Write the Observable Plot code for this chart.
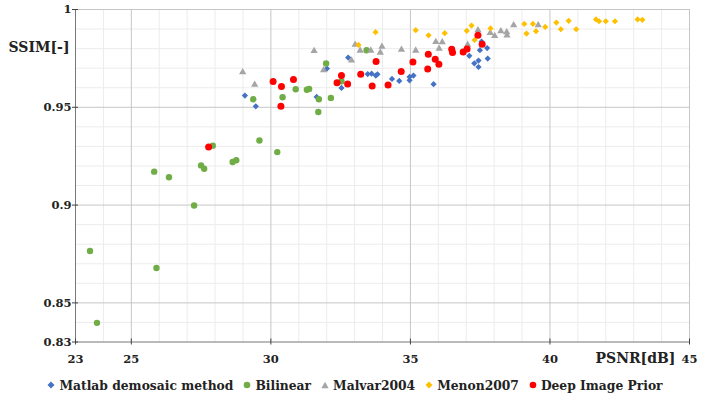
<!DOCTYPE html>
<html><head><meta charset="utf-8">
<script src="https://cdn.jsdelivr.net/npm/d3@7"></script>
<script src="https://cdn.jsdelivr.net/npm/@observablehq/plot@0.6"></script>
<style>
html,body{margin:0;padding:0;background:#fff;}
#wrap{width:710px;position:relative;font-family:"DejaVu Serif",serif;font-weight:bold;}
#legend{display:flex;justify-content:center;align-items:center;height:26px;font-size:12.3px;color:#222;margin-top:0px;}
#legend .it{display:flex;align-items:center;margin:0 5px;}
#legend svg{margin-right:4px;}
</style></head>
<body><div id="wrap"></div>
<script>
const seriesNames = ["Matlab demosaic method", "Bilinear", "Malvar2004", "Menon2007", "Deep Image Prior"];
const seriesColors = ["#4472C4", "#70AD47", "#A5A5A5", "#FFC000", "#FF0000"];
const seriesSymbols = ["diamond2", "circle", "triangle", "diamond2", "circle"];
const seriesR = [2.8, 3.2, 2.7, 2.8, 3.5];

const matlabX = [29.07, 29.46, 31.64, 32.01, 32.53, 32.77, 33.47, 33.61, 33.76, 33.82, 34.34, 34.60, 34.97, 34.97, 35.11, 35.83, 37.11, 37.29, 37.44, 37.44, 37.49, 37.55, 37.75, 37.77];
const matlabY = [0.956, 0.9505, 0.9553, 0.9698, 0.9599, 0.9754, 0.967, 0.9672, 0.9662, 0.9669, 0.9645, 0.9635, 0.9638, 0.9655, 0.9662, 0.9618, 0.9763, 0.9725, 0.9739, 0.9706, 0.9792, 0.9836, 0.9803, 0.9749];

const bilinearX = [23.52, 23.77, 25.82, 25.90, 26.35, 27.25, 27.50, 27.61, 27.92, 28.63, 28.76, 29.37, 29.59, 30.23, 30.42, 30.89, 31.29, 31.37, 31.70, 31.72, 31.98, 32.15, 32.53, 33.43];
const bilinearY = [0.8765, 0.8398, 0.9171, 0.8678, 0.9142, 0.8998, 0.9203, 0.9186, 0.9304, 0.922, 0.9229, 0.9541, 0.933, 0.9271, 0.9551, 0.9592, 0.959, 0.9594, 0.9476, 0.9541, 0.9724, 0.9548, 0.9633, 0.9792];

const malvarX = [28.99, 29.42, 31.55, 31.89, 32.89, 33.02, 33.20, 33.58, 33.92, 33.98, 34.68, 35.19, 35.91, 36.03, 36.14, 37.05, 37.42, 37.86, 38.02, 38.24, 38.45, 38.46, 38.70, 39.58];
const malvarY = [0.968, 0.9616, 0.9788, 0.969, 0.974, 0.982, 0.979, 0.979, 0.978, 0.981, 0.9795, 0.979, 0.9834, 0.980, 0.9833, 0.982, 0.9894, 0.988, 0.9865, 0.9889, 0.9884, 0.9868, 0.992, 0.992];

const menonX = [33.14, 33.75, 35.19, 35.65, 36.23, 37.02, 37.19, 37.30, 37.87, 39.08, 39.16, 39.39, 39.50, 39.83, 40.23, 40.39, 40.67, 40.94, 41.65, 41.76, 42.00, 42.33, 43.14, 43.31];
const menonY = [0.9819, 0.9884, 0.9894, 0.9868, 0.9879, 0.9891, 0.9918, 0.9844, 0.9903, 0.9926, 0.9877, 0.9926, 0.9889, 0.9911, 0.9933, 0.9899, 0.9942, 0.9899, 0.9949, 0.994, 0.994, 0.994, 0.9949, 0.9947];

const dipX = [27.77, 30.08, 30.36, 30.38, 30.81, 32.37, 32.53, 32.75, 33.22, 33.63, 33.77, 34.20, 34.67, 35.09, 35.62, 35.64, 35.89, 36.02, 36.48, 36.51, 36.89, 37.03, 37.42, 37.57];
const dipY = [0.9297, 0.9632, 0.9505, 0.9606, 0.9642, 0.9626, 0.9662, 0.9619, 0.9669, 0.9609, 0.9734, 0.9614, 0.9683, 0.9732, 0.9696, 0.9771, 0.9746, 0.972, 0.9797, 0.978, 0.9783, 0.9798, 0.9868, 0.9822];

const xTicks = [23, 25, 30, 35, 40, 45];
const yTicks = [0.83, 0.85, 0.9, 0.95, 1];
const xMajorGrid = [25, 30, 35, 40, 45];
const xMinorGrid = [24, 26, 27, 28, 29, 31, 32, 33, 34, 36, 37, 38, 39, 41, 42, 43, 44];
const yMajorGrid = [0.85, 0.9, 0.95, 1];
const yMinorGrid = [0.84, 0.86, 0.87, 0.88, 0.89, 0.91, 0.92, 0.93, 0.94, 0.96, 0.97, 0.98, 0.99];

const allX = [matlabX, bilinearX, malvarX, menonX, dipX];
const allY = [matlabY, bilinearY, malvarY, menonY, dipY];

const dotMarks = allX.map((xs, i) => Plot.dot(xs.map((x, j) => ({x, y: allY[i][j]})), {
  x: "x", y: "y", symbol: () => seriesSymbols[i], r: seriesR[i], fill: seriesColors[i], stroke: "none"
}));

const fontFam = "DejaVu Serif, serif";
const chart = Plot.plot({
  width: 710, height: 372,
  marginLeft: 75, marginRight: 21, marginTop: 9, marginBottom: 30.5,
  style: {fontFamily: fontFam, fontWeight: "bold", fontSize: "11.5px", color: "#222", background: "#fff"},
  x: {domain: [23, 45], axis: null},
  y: {domain: [0.83, 1], axis: null},
  symbol: {type: "identity"},
  marks: [
    Plot.ruleX(xMinorGrid, {stroke: "#ececec", strokeWidth: 1}),
    Plot.ruleY(yMinorGrid, {stroke: "#ececec", strokeWidth: 1}),
    Plot.ruleX(xMajorGrid, {stroke: "#c6c6c6", strokeWidth: 1}),
    Plot.ruleY(yMajorGrid, {stroke: "#c6c6c6", strokeWidth: 1}),
    Plot.ruleX([23], {stroke: "#777", strokeWidth: 1}),
    Plot.ruleY([0.83], {stroke: "#777", strokeWidth: 1}),
    Plot.axisX({ticks: xTicks, tickSize: 6, dy: -3, text: null, label: null, stroke: "#444"}),
    Plot.axisY({ticks: yTicks, tickSize: 6, dx: 3, text: null, label: null, stroke: "#444"}),
    Plot.axisX({ticks: xTicks, tickSize: 0, tickPadding: 13, label: null, tickFormat: d => String(d), fontSize: 11.5}),
    Plot.axisY({ticks: yTicks, tickSize: 0, tickPadding: 4, label: null, tickFormat: d => String(d), fontSize: 11.5}),
    ...dotMarks,
    Plot.text(["SSIM[-]"], {frameAnchor: "top-left", dx: -36.5, dy: 33, textAnchor: "middle", fontSize: 14, fontWeight: "bold", fill: "#222"}),
    Plot.text(["PSNR[dB]"], {frameAnchor: "bottom-right", dx: -54, dy: 20.5, textAnchor: "middle", fontSize: 14, fontWeight: "bold", fill: "#222"})
  ]
});

const wrap = document.getElementById("wrap");
wrap.appendChild(chart);
const legend = document.createElement("div");
legend.id = "legend";
const shapes = {
  diamond2: c => `<polygon points="4,0.5 7.5,4 4,7.5 0.5,4" fill="${c}"/>`,
  circle: c => `<circle cx="4" cy="4" r="3.3" fill="${c}"/>`,
  triangle: c => `<polygon points="4,0.8 7.6,7.2 0.4,7.2" fill="${c}"/>`
};
seriesNames.forEach((name, i) => {
  const it = document.createElement("div");
  it.className = "it";
  it.innerHTML = `<svg width="8" height="8">${shapes[seriesSymbols[i]](seriesColors[i])}</svg><span>${name}</span>`;
  legend.appendChild(it);
});
wrap.appendChild(legend);
</script>
</body></html>
